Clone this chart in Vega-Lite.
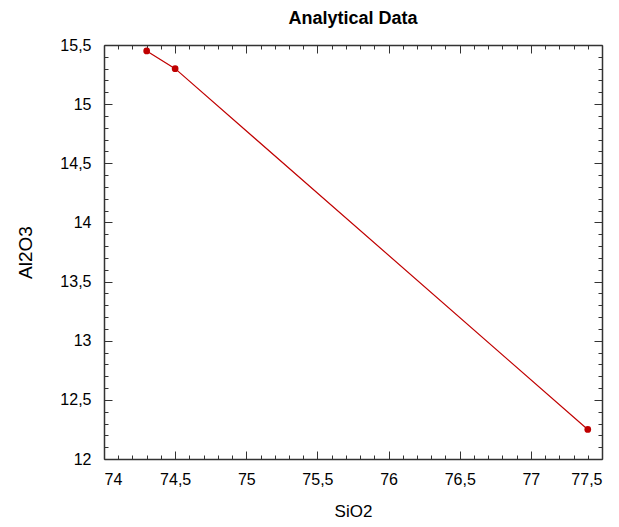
{
  "$schema": "https://vega.github.io/schema/vega-lite/v6.json",
  "width": 498,
  "height": 414,
  "autosize": {"type": "none"},
  "padding": {"left": 104, "top": 45, "right": 17, "bottom": 68},
  "title": {"text": "Analytical Data", "fontSize": 18, "font": "Liberation Sans", "fontWeight": "bold", "offset": 9, "color": "#000"},
  "config": {
    "view": {"stroke": null},
    "axis": {"domainColor": "#333", "tickColor": "#333", "domainWidth": 1.5, "labelFont": "Liberation Sans", "labelFontSize": 16, "labelColor": "#000", "titleFont": "Liberation Sans", "titleFontWeight": "normal", "titleColor": "#000", "grid": false}
  },
  "data": {"values": [
    {"SiO2": 74.3, "Al2O3": 15.45},
    {"SiO2": 74.5, "Al2O3": 15.3},
    {"SiO2": 77.4, "Al2O3": 12.25}
  ]},
  "layer": [
    {
      "mark": {"type": "line", "color": "#c00000", "strokeWidth": 1.2},
      "encoding": {
        "x": {"field": "SiO2", "type": "quantitative", "scale": {"domain": [74, 77.5], "nice": false, "zero": false},
          "axis": {"orient": "bottom", "values": [74, 74.5, 75, 75.5, 76, 76.5, 77, 77.5], "tickSize": -8, "labelPadding": 20, "labelExpr": "replace(toString(datum.value), '.', ',')", "title": "SiO2", "titleFontSize": 17, "titlePadding": 16}},
        "y": {"field": "Al2O3", "type": "quantitative", "scale": {"domain": [12, 15.5], "nice": false, "zero": false},
          "axis": {"orient": "left", "values": [12, 12.5, 13, 13.5, 14, 14.5, 15, 15.5], "tickSize": -8, "labelPadding": 21, "labelExpr": "replace(toString(datum.value), '.', ',')", "title": "Al2O3", "titleFontSize": 19, "titlePadding": 24}}
      }
    },
    {
      "mark": {"type": "point", "filled": true, "color": "#c00000", "size": 45, "opacity": 1},
      "encoding": {
        "x": {"field": "SiO2", "type": "quantitative", "scale": {"domain": [74, 77.5], "nice": false, "zero": false},
          "axis": {"orient": "top", "values": [74, 74.5, 75, 75.5, 76, 76.5, 77, 77.5], "tickSize": -8, "labels": false, "title": null}},
        "y": {"field": "Al2O3", "type": "quantitative", "scale": {"domain": [12, 15.5], "nice": false, "zero": false},
          "axis": {"orient": "right", "values": [12, 12.5, 13, 13.5, 14, 14.5, 15, 15.5], "tickSize": -8, "labels": false, "title": null}}
      }
    },
    {
      "mark": {"type": "point", "opacity": 0},
      "encoding": {
        "x": {"field": "SiO2", "type": "quantitative", "scale": {"domain": [74, 77.5], "nice": false, "zero": false},
          "axis": {"orient": "bottom", "values": [74.1, 74.2, 74.3, 74.4, 74.6, 74.7, 74.8, 74.9, 75.1, 75.2, 75.3, 75.4, 75.6, 75.7, 75.8, 75.9, 76.1, 76.2, 76.3, 76.4, 76.6, 76.7, 76.8, 76.9, 77.1, 77.2, 77.3, 77.4], "tickSize": -4, "labels": false, "domain": false, "title": null}},
        "y": {"field": "Al2O3", "type": "quantitative", "scale": {"domain": [12, 15.5], "nice": false, "zero": false},
          "axis": {"orient": "left", "values": [12.1, 12.2, 12.3, 12.4, 12.6, 12.7, 12.8, 12.9, 13.1, 13.2, 13.3, 13.4, 13.6, 13.7, 13.8, 13.9, 14.1, 14.2, 14.3, 14.4, 14.6, 14.7, 14.8, 14.9, 15.1, 15.2, 15.3, 15.4], "tickSize": -4, "labels": false, "domain": false, "title": null}}
      }
    },
    {
      "mark": {"type": "point", "opacity": 0},
      "encoding": {
        "x": {"field": "SiO2", "type": "quantitative", "scale": {"domain": [74, 77.5], "nice": false, "zero": false},
          "axis": {"orient": "top", "values": [74.1, 74.2, 74.3, 74.4, 74.6, 74.7, 74.8, 74.9, 75.1, 75.2, 75.3, 75.4, 75.6, 75.7, 75.8, 75.9, 76.1, 76.2, 76.3, 76.4, 76.6, 76.7, 76.8, 76.9, 77.1, 77.2, 77.3, 77.4], "tickSize": -4, "labels": false, "domain": false, "title": null}},
        "y": {"field": "Al2O3", "type": "quantitative", "scale": {"domain": [12, 15.5], "nice": false, "zero": false},
          "axis": {"orient": "right", "values": [12.1, 12.2, 12.3, 12.4, 12.6, 12.7, 12.8, 12.9, 13.1, 13.2, 13.3, 13.4, 13.6, 13.7, 13.8, 13.9, 14.1, 14.2, 14.3, 14.4, 14.6, 14.7, 14.8, 14.9, 15.1, 15.2, 15.3, 15.4], "tickSize": -4, "labels": false, "domain": false, "title": null}}
      }
    }
  ],
  "resolve": {"axis": {"x": "independent", "y": "independent"}}
}
